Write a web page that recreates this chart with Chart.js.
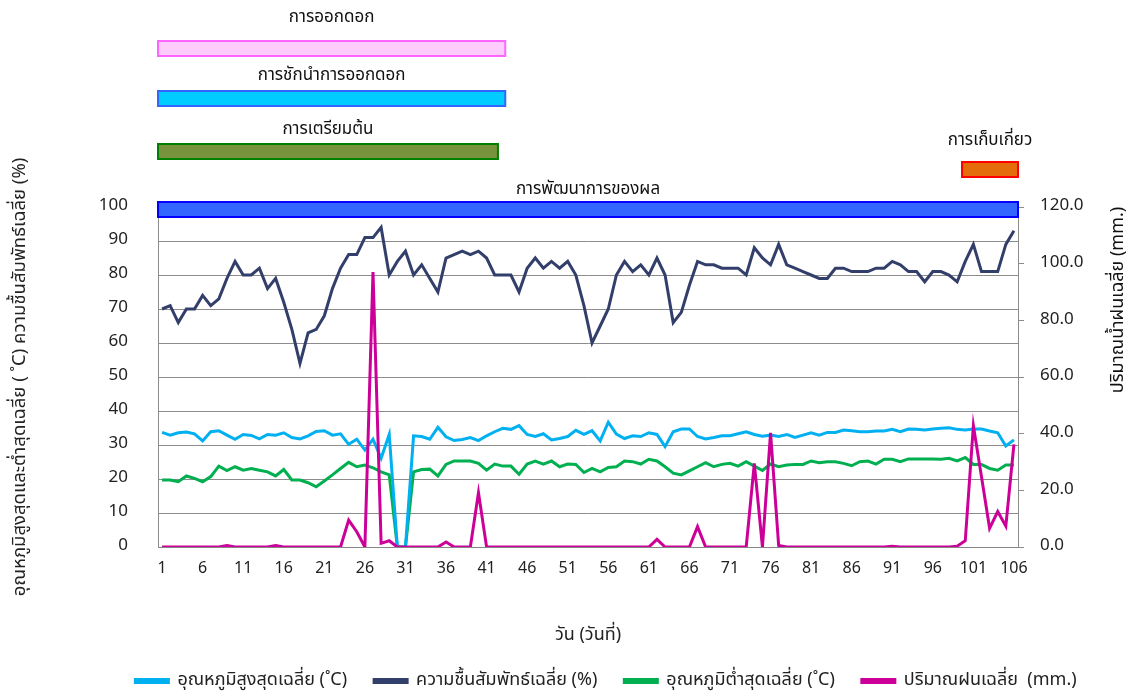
<!DOCTYPE html>
<html>
<head>
<meta charset="utf-8">
<script src="https://cdn.jsdelivr.net/npm/chart.js@4.4.0/dist/chart.umd.min.js"></script>
<style>
    html, body { margin: 0; padding: 0; background: #fff; }
    #wrap { width: 1126px; height: 695px; }
</style>
</head>
<body>
<div id="wrap"><canvas id="weatherCanvas"></canvas></div>
<script>
const days = [
    1, 2, 3, 4, 5, 6, 7, 8, 9, 10, 11, 12, 13, 14, 15, 16, 17, 18, 19, 20,
    21, 22, 23, 24, 25, 26, 27, 28, 29, 30, 31, 32, 33, 34, 35, 36, 37, 38, 39, 40,
    41, 42, 43, 44, 45, 46, 47, 48, 49, 50, 51, 52, 53, 54, 55, 56, 57, 58, 59, 60,
    61, 62, 63, 64, 65, 66, 67, 68, 69, 70, 71, 72, 73, 74, 75, 76, 77, 78, 79, 80,
    81, 82, 83, 84, 85, 86, 87, 88, 89, 90, 91, 92, 93, 94, 95, 96, 97, 98, 99, 100,
    101, 102, 103, 104, 105, 106
];

const tempMax = [
    33.7, 32.9, 33.6, 33.8, 33.3, 31.2, 33.9, 34.2, 32.9, 31.7,
    33.1, 32.8, 31.8, 33.1, 32.9, 33.6, 32.2, 31.8, 32.7, 34.0,
    34.2, 32.9, 33.3, 30.2, 31.7, 28.5, 31.7, 26.1, 33.1, 0,
    0, 32.7, 32.5, 31.7, 35.2, 32.4, 31.3, 31.6, 32.2, 31.3,
    32.7, 33.9, 34.9, 34.6, 35.7, 33.1, 32.5, 33.3, 31.5, 31.9,
    32.5, 34.3, 33.1, 34.2, 31.2, 36.7, 33.2, 31.9, 32.7, 32.5,
    33.6, 33.1, 29.5, 33.9, 34.7, 34.7, 32.5, 31.8, 32.2, 32.7,
    32.7, 33.3, 33.9, 33.1, 32.6, 32.9, 32.5, 33.1, 32.2, 32.9,
    33.6, 32.9, 33.7, 33.7, 34.4, 34.2, 33.9, 33.9, 34.1, 34.1,
    34.6, 33.9, 34.7, 34.6, 34.4, 34.7, 34.9, 35.1, 34.6, 34.4,
    34.7, 34.7, 34.1, 33.6, 29.7, 31.5
];

const humidity = [
    70, 71, 66, 70, 70, 74, 71, 73, 79, 84,
    80, 80, 82, 76, 79, 72, 64, 54, 63, 64,
    68, 76, 82, 86, 86, 91, 91, 94, 80, 84,
    87, 80, 83, 79, 75, 85, 86, 87, 86, 87,
    85, 80, 80, 80, 75, 82, 85, 82, 84, 82,
    84, 80, 71, 60, 65, 70, 80, 84, 81, 83,
    80, 85, 80, 66, 69, 77, 84, 83, 83, 82,
    82, 82, 80, 88, 85, 83, 89, 83, 82, 81,
    80, 79, 79, 82, 82, 81, 81, 81, 82, 82,
    84, 83, 81, 81, 78, 81, 81, 80, 78, 84,
    89, 81, 81, 81, 89, 93
];

const tempMin = [
    19.7, 19.7, 19.2, 20.9, 20.2, 19.2, 20.7, 23.8, 22.5, 23.6,
    22.6, 23.1, 22.6, 22.1, 20.9, 22.8, 19.7, 19.7, 18.9, 17.7,
    19.4, 21.2, 23.1, 24.9, 23.6, 24.1, 23.3, 22.1, 21.2, 0,
    0, 22.1, 22.8, 22.9, 20.9, 24.3, 25.3, 25.3, 25.3, 24.6,
    22.6, 24.4, 23.8, 23.8, 21.4, 24.4, 25.3, 24.4, 25.3, 23.6,
    24.4, 24.3, 21.9, 23.1, 22.1, 23.4, 23.6, 25.3, 25.1, 24.4,
    25.8, 25.3, 23.6, 21.7, 21.2, 22.4, 23.6, 24.8, 23.6, 24.3,
    24.6, 23.8, 25.1, 23.8, 22.5, 24.4, 23.6, 24.1, 24.3, 24.3,
    25.3, 24.8, 25.1, 25.1, 24.6, 23.9, 25.1, 25.3, 24.4, 25.8,
    25.8, 25.1, 25.9, 25.9, 25.9, 25.9, 25.8, 26.1, 25.3, 26.3,
    24.3, 24.3, 23.1, 22.6, 24.1, 24.1
];

const rainfall = [
    0, 0, 0, 0, 0, 0, 0, 0, 0.5, 0,
    0, 0, 0, 0, 0.5, 0, 0, 0, 0, 0,
    0, 0, 0, 9.5, 5.4, 0, 97, 1.3, 2.2, 0,
    0, 0, 0, 0, 0, 1.8, 0, 0, 0, 19.2,
    0, 0, 0, 0, 0, 0, 0, 0, 0, 0,
    0, 0, 0, 0, 0, 0, 0, 0, 0, 0,
    0, 2.7, 0, 0, 0, 0, 7.2, 0, 0, 0,
    0, 0, 0, 29.5, 0, 40.3, 0.5, 0, 0, 0,
    0, 0, 0, 0, 0, 0, 0, 0, 0, 0,
    0.3, 0, 0, 0, 0, 0, 0, 0, 0.3, 2.2,
    42.8, 24.8, 6.6, 12.5, 7.4, 36.2
];

// growth phases, in days
const phaseNames = ['การออกดอก', 'การชักนำการออกดอก', 'การเตรียมต้น', 'การเก็บเกี่ยว', 'การพัฒนาการของผล'];
const phaseStart = [0.5, 0.5, 0.5, 99.6, 0.5];
const phaseEnd = [43.3, 43.3, 42.4, 106.5, 106.5];

const phaseFill = ['#ffccff', '#00ccff', '#77933c', '#e46c0a', '#3366ff'];
const phaseBorder = ['#ff66ff', '#3366ff', '#008000', '#ff0000', '#0000ff'];
const phaseBarTop = [41, 91, 144, 162, 202];
const phaseLabelY = [19, 77, 131, 142, 191];

const FONT = "'Noto Sans Thai', Tahoma, 'Noto Sans', sans-serif";
Chart.defaults.font.family = FONT;
Chart.defaults.color = '#222';

const phasePlugin = {
    id: 'phases',
    afterLayout(chart) {
        // legend in the original sits a little right of centre
        chart.legend.left += 43;
        chart.legend.right += 43;
    },
    afterDraw(chart) {
        const ctx = chart.ctx;
        const x = chart.scales.x;
        ctx.save();
        phaseNames.forEach((name, i) => {
            const x0 = x.getPixelForValue(phaseStart[i] - 1);
            const x1 = x.getPixelForValue(phaseEnd[i] - 1);
            ctx.fillStyle = phaseFill[i];
            ctx.strokeStyle = phaseBorder[i];
            ctx.lineWidth = 2;
            ctx.fillRect(x0, phaseBarTop[i], x1 - x0, 15);
            ctx.strokeRect(x0, phaseBarTop[i], x1 - x0, 15);
            ctx.fillStyle = '#111';
            ctx.font = '17px ' + FONT;
            ctx.textAlign = 'center';
            ctx.textBaseline = 'middle';
            ctx.fillText(name, (x0 + x1) / 2, phaseLabelY[i]);
        });
        // right axis title reads bottom to top
        ctx.translate(1119, 300);
        ctx.rotate(-Math.PI / 2);
        ctx.font = '18px ' + FONT;
        ctx.fillText('ปริมาณน้ำฝนเฉลี่ย (mm.)', 0, 0);
        ctx.restore();
    }
};

const ctx = document.getElementById('weatherCanvas').getContext('2d');

new Chart(ctx, {
    type: 'line',
    data: {
        labels: days,
        datasets: [
            { label: 'อุณหภูมิสูงสุดเฉลี่ย (˚C)', data: tempMax, borderColor: '#00b0f0', backgroundColor: '#00b0f0', yAxisID: 'y', order: 2 },
            { label: 'ความชื้นสัมพัทธ์เฉลี่ย (%)', data: humidity, borderColor: '#333f6b', backgroundColor: '#333f6b', yAxisID: 'y', order: 1 },
            { label: 'อุณหภูมิต่ำสุดเฉลี่ย (˚C)', data: tempMin, borderColor: '#00b050', backgroundColor: '#00b050', yAxisID: 'y', order: 3 },
            { label: 'ปริมาณฝนเฉลี่ย  (mm.)', data: rainfall, borderColor: '#cc0099', backgroundColor: '#cc0099', yAxisID: 'y1', order: 0 }
        ]
    },
    options: {
        responsive: true,
        maintainAspectRatio: false,
        animation: false,
        elements: {
            line: { borderWidth: 3, tension: 0 },
            point: { radius: 0, hoverRadius: 0 }
        },
        layout: { padding: { top: 207, left: 0, right: 0, bottom: -5 } },
        plugins: {
            legend: {
                position: 'bottom',
                labels: {
                    boxWidth: 33,
                    boxHeight: 3,
                    padding: 27,
                    font: { size: 18 },
                    sort: (a, b) => a.datasetIndex - b.datasetIndex
                }
            },
            tooltip: { enabled: false }
        },
        scales: {
            x: {
                offset: true,
                grid: { display: false },
                border: { color: '#868686' },
                ticks: {
                    autoSkip: false,
                    maxRotation: 0,
                    padding: 5,
                    font: { size: 16 },
                    callback: function (val, i) {
                        return i % 5 === 0 ? days[i] : '';
                    }
                },
                title: {
                    display: true,
                    text: 'วัน (วันที่)',
                    font: { size: 18 },
                    padding: { top: 4, bottom: -2 }
                },
                afterFit: (scale) => { scale.height = 98; }
            },
            y: {
                position: 'left',
                min: 0,
                max: 100,
                grid: { color: '#8c8c8c', drawTicks: false },
                border: { color: '#8c8c8c' },
                ticks: { stepSize: 10, padding: 30, font: { size: 17 } },
                title: {
                    display: true,
                    text: 'อุณหภูมิสูงสุดและต่ำสุดเฉลี่ย ( ˚C) ความชื้นสัมพัทธ์เฉลี่ย (%)',
                    font: { size: 18.5 },
                    padding: { top: 10, bottom: 0 }
                },
                afterFit: (scale) => { scale.width = 158; }
            },
            y1: {
                position: 'right',
                min: 0,
                max: 120,
                grid: { drawOnChartArea: false, color: '#8c8c8c', tickLength: 6 },
                border: { color: '#8c8c8c' },
                ticks: {
                    stepSize: 20,
                    padding: 16,
                    font: { size: 17 },
                    callback: (v) => v.toFixed(1)
                },
                afterFit: (scale) => { scale.width = 108; }
            }
        }
    },
    plugins: [phasePlugin]
});
</script>
</body>
</html>
